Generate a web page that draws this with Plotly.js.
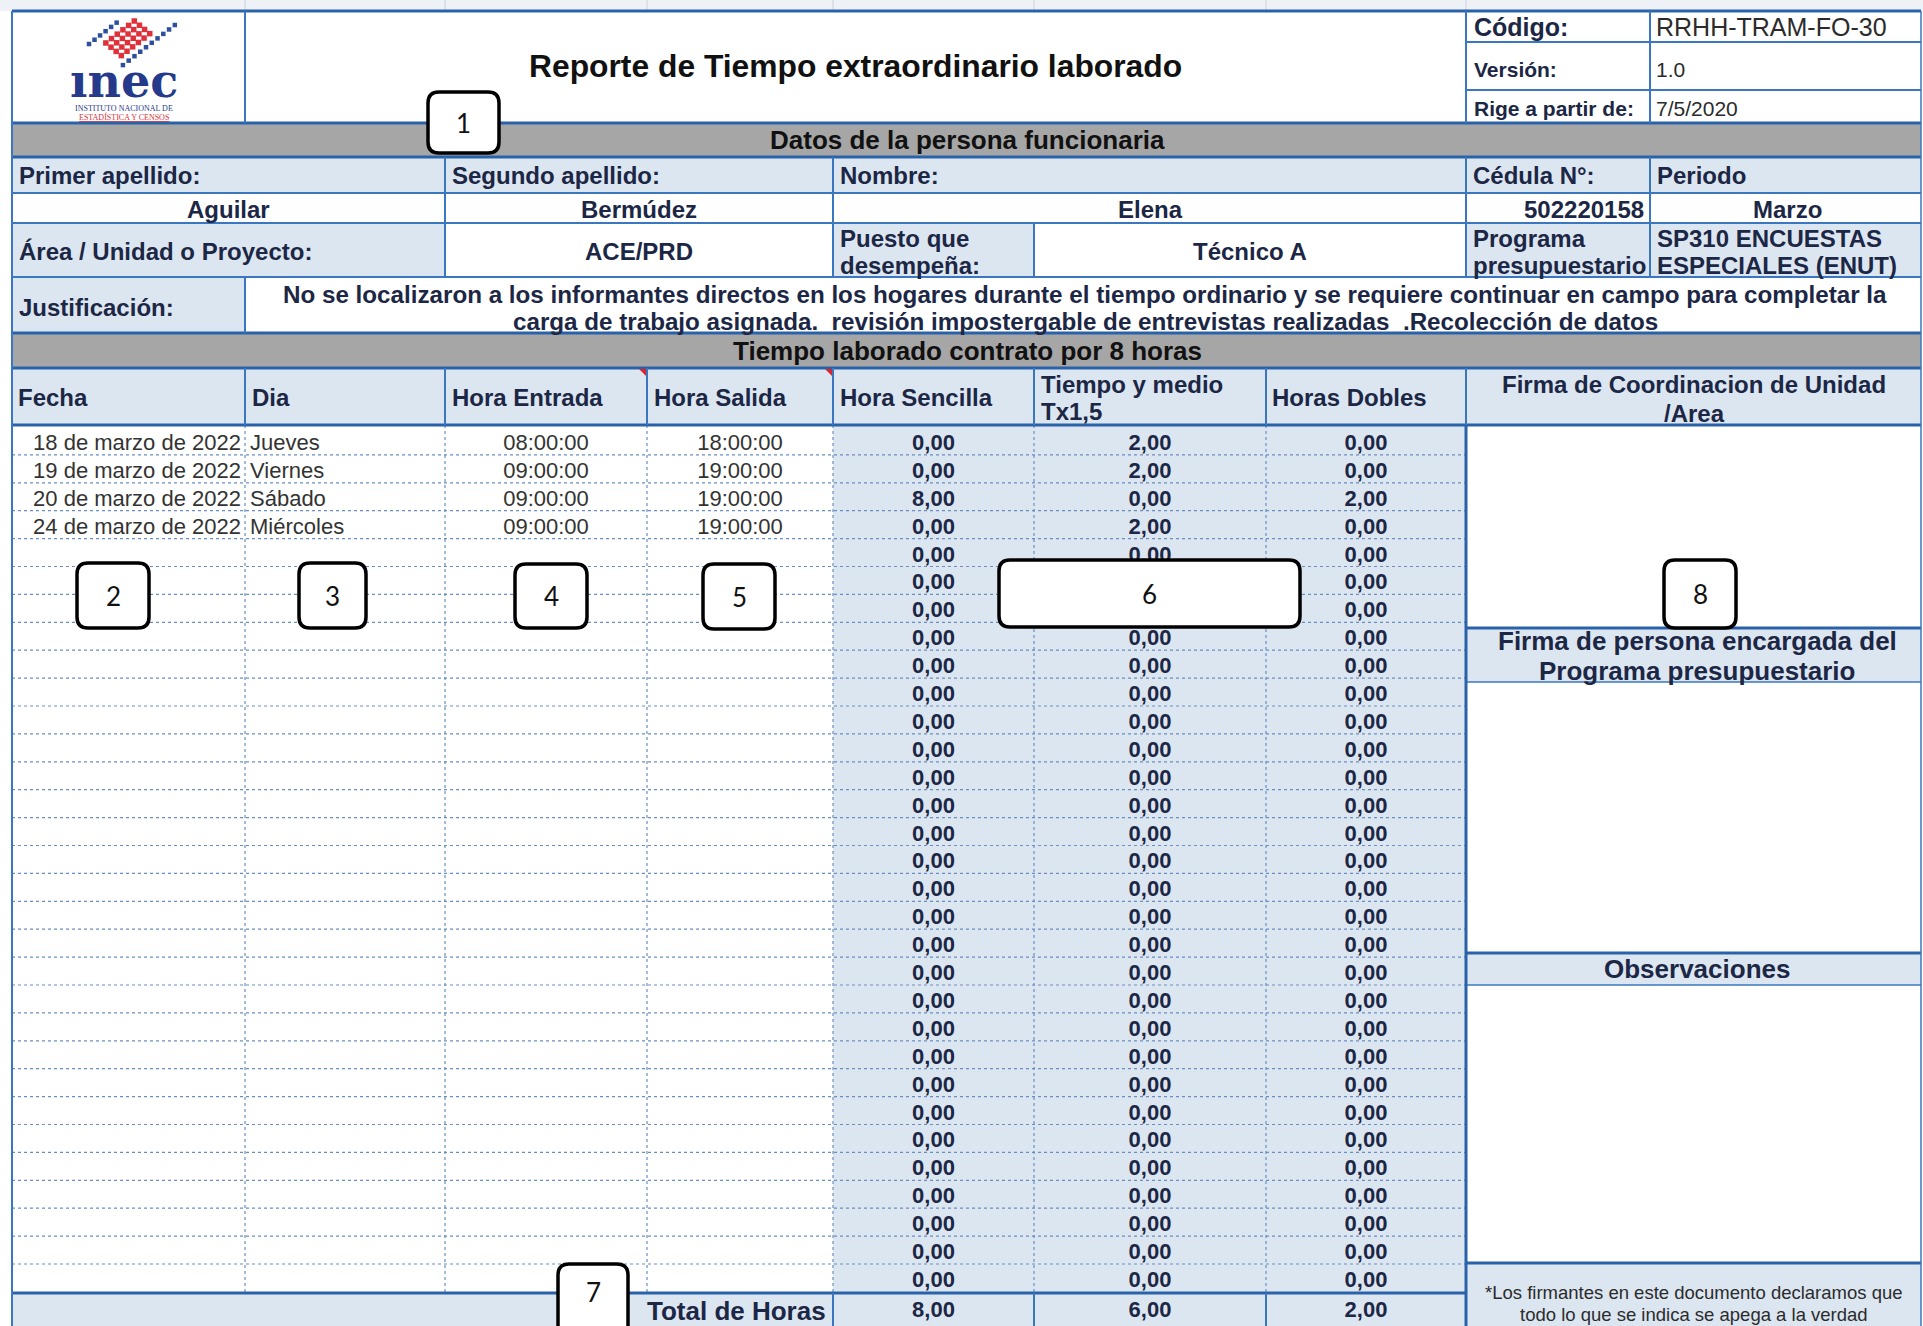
<!DOCTYPE html>
<html><head><meta charset="utf-8">
<script src="https://cdn.plot.ly/plotly-3.0.1.min.js"></script>
<style>html,body{margin:0;padding:0;background:#fff;overflow:hidden}#chart{width:1923px;height:1326px}</style>
</head><body><div id="chart"></div>
<script>
// ---------- DATA ----------
const fechas = ["18 de marzo de 2022","19 de marzo de 2022","20 de marzo de 2022","24 de marzo de 2022"];
const dias = ["Jueves","Viernes","Sábado","Miércoles"];
const horaEntrada = ["08:00:00","09:00:00","09:00:00","09:00:00"];
const horaSalida = ["18:00:00","19:00:00","19:00:00","19:00:00"];
const horaSencilla = [0,0,8,0,0,0,0,0,0,0,0,0,0,0,0,0,0,0,0,0,0,0,0,0,0,0,0,0,0,0,0];
const tiempoYMedio = [2,2,0,2,0,0,0,0,0,0,0,0,0,0,0,0,0,0,0,0,0,0,0,0,0,0,0,0,0,0,0];
const horasDobles  = [0,0,2,0,0,0,0,0,0,0,0,0,0,0,0,0,0,0,0,0,0,0,0,0,0,0,0,0,0,0,0];
const columnHeaders = ["Fecha","Dia","Hora Entrada","Hora Salida","Hora Sencilla",["Tiempo y medio","Tx1,5"],"Horas Dobles"];
const calloutLabels = ["1","2","3","4","5","6","7","8"];

// ---------- LAYOUT CONSTANTS ----------
const W = 1923, H = 1326;
const FONT = "Liberation Sans, Arial, Helvetica, sans-serif";
const NAVY = "#1c2745", INK = "#2b2b2b";
const LB = "#dce6f1", GRAY = "#a6a6a6", BLUE = "#3b76c0", DBLUE = "#2a62aa", DOT = "#6a8fbf";
const C = [12,245,445,647,833,1034,1266,1466];
const C8 = 1650, R = 1921;
const ROW_TOP = 427, ROW_H = 27.9, NROWS = horaSencilla.length;
const TEXT_DROP = 3.5;               // cell text sits slightly low, as in the sheet
const TEXT_TOP = ROW_TOP + TEXT_DROP;
const LINE_OFF = TEXT_DROP / ROW_H;
const TOTAL_Y = 1311;

const shapes = [];
function rect(x0,y0,x1,y1,fill){shapes.push({type:'rect',xref:'x',yref:'y',x0,y0,x1,y1,fillcolor:fill,line:{width:0},layer:'below'});}
function hl(x0,x1,y,w,col,dash,yref){shapes.push({type:'line',xref:'x',yref:yref||'y',x0,x1,y0:y,y1:y,line:{color:col||BLUE,width:w||2,dash:dash||'solid'},layer:'below'});}
function vl(x,y0,y1,w,col,dash){shapes.push({type:'line',xref:'x',yref:'y',x0:x,x1:x,y0,y1,line:{color:col||BLUE,width:w||2,dash:dash||'solid'},layer:'below'});}

// fills
rect(0,0,W,11,"#eef1f5");
rect(12,123,R,157,GRAY); rect(12,333,R,368,GRAY);
rect(12,157,R,193,LB);
rect(12,223,445,277,LB); rect(833,223,1034,277,LB); rect(1466,223,R,277,LB);
rect(12,277,245,333,LB);
rect(12,368,R,425,LB);
rect(C[4],425,C[7],1293,LB);
rect(1466,628,R,682,LB); rect(1466,953,R,985,LB); rect(1466,1263,R,H,LB);
rect(12,1293,1466,H,LB);

// faint strip column lines
C.slice(1).forEach(x=>vl(x,0,11,1,"#c9d2dd"));

// dotted grid in data rows
for(let i=0;i<NROWS-1;i++) hl(C[0],C[7],i+0.5-LINE_OFF,1.2,DOT,'dot','y2');
for(let k=1;k<=6;k++) vl(C[k],425,1293,1.2,DOT,'dot');

// solid borders
[[12,R,11,3],[12,R,123,3],[12,R,157,3],[12,R,193,2],[12,R,223,2],[12,R,277,2],[12,R,333,3],[12,R,368,3],[12,R,425,3],
 [1466,R,42,2],[1466,R,90,2],[1466,R,628,3],[1466,R,682,1.5],[1466,R,953,3],[1466,R,985,1.5],[1466,R,1263,3],[12,1466,1293,3]]
 .forEach(a=>hl(a[0],a[1],a[2],a[3],a[3]>=3?DBLUE:BLUE));
vl(12,11,H,2); vl(R,11,H,1.5);
[245,1466,C8].forEach(x=>vl(x,11,123,2));
[445,833,1466,C8].forEach(x=>vl(x,157,223,2));
[445,833,1034,1466,C8].forEach(x=>vl(x,223,277,2));
vl(245,277,333,2);
C.slice(1).forEach(x=>vl(x,368,425,2));
vl(1466,425,H,3,DBLUE);
[833,1034,1266].forEach(x=>vl(x,1293,H,2));

// red comment markers
[647,833].forEach(x=>shapes.push({type:'path',xref:'x',yref:'y',path:`M ${x-8} 369 L ${x-1} 369 L ${x-1} 376 Z`,fillcolor:'#d9262e',line:{width:0},layer:'above'}));

// logo pattern
const O=[89,44], u=[0.79,-0.61], v=[0.61,0.79];
function sq(al,pe,s,col){const cx=O[0]+al*u[0]+pe*v[0], cy=O[1]+al*u[1]+pe*v[1];
 shapes.push({type:'rect',xref:'x',yref:'y',x0:cx-s/2,x1:cx+s/2,y0:cy-s/2,y1:cy+s/2,fillcolor:col,line:{width:0},layer:'above'});}
for(let t=0;t<6;t++) sq(t*7,0,4.5,'#2d4f9e');
for(let r=0;r<4;r++) for(let t=0;t<6;t++) sq(14+r*1.5+t*7.2,9.5+r*6.5,5.5,'#e0313b');
for(let t=0;t<10;t++) sq(14+t*7.3,37.5,4.5,'#2d4f9e');

// callout boxes
function rr(x0,y0,x1,y1,r){return `M ${x0+r} ${y0} L ${x1-r} ${y0} Q ${x1} ${y0} ${x1} ${y0+r} L ${x1} ${y1-r} Q ${x1} ${y1} ${x1-r} ${y1} L ${x0+r} ${y1} Q ${x0} ${y1} ${x0} ${y1-r} L ${x0} ${y0+r} Q ${x0} ${y0} ${x0+r} ${y0} Z`;}
const boxes = [[428,92,499,153],[77,563,149,628],[299,563,366,628],[515,564,587,628],[703,564,775,629],[999,560,1300,627],[558,1264,628,1345],[1664,560,1736,628]];
boxes.forEach(b=>shapes.push({type:'path',xref:'x',yref:'y',path:rr(b[0],b[1],b[2],b[3],11),fillcolor:'#fff',line:{color:'#000',width:3.5},layer:'above'}));

// ---------- ANNOTATIONS (static form text) ----------
const anns = [];
function ann(x,y,text,size,o){o=o||{};const xa=o.xa||'center';
 anns.push({x,y,xref:'x',yref:'y',text,showarrow:false,xanchor:xa,yanchor:'middle',align:xa==='left'?'left':(xa==='right'?'right':'center'),
  font:{family:o.family||FONT,size,color:o.color||NAVY,weight:o.bold===false?400:700}});}

// logo text
ann(124,81,"ınec",46,{family:"DejaVu Serif, serif",color:'#263a8c'});
ann(124,108,"INSTITUTO NACIONAL DE",8,{family:"Liberation Serif, serif",color:'#263a8c',bold:false});
ann(124,117,"<u>ESTADÍSTICA Y CENSOS</u>",8,{family:"Liberation Serif, serif",color:'#d6333b',bold:false});

ann(855,66,"Reporte de Tiempo extraordinario laborado",31.8,{color:'#111'});
ann(1472,27,"Código:",25,{xa:'left'}); ann(1654,27,"RRHH-TRAM-FO-30",25,{xa:'left',bold:false,color:INK});
ann(1472,69,"Versión:",21,{xa:'left'}); ann(1654,69,"1.0",21,{xa:'left',bold:false,color:INK});
ann(1472,108,"Rige a partir de:",21,{xa:'left'}); ann(1654,108,"7/5/2020",21,{xa:'left',bold:false,color:INK});

ann(967,140,"Datos de la persona funcionaria",26,{color:'#111'});
ann(17,175,"Primer apellido:",24,{xa:'left'}); ann(450,175,"Segundo apellido:",24,{xa:'left'});
ann(838,175,"Nombre:",24,{xa:'left'}); ann(1471,175,"Cédula N°:",24,{xa:'left'}); ann(1655,175,"Periodo",24,{xa:'left'});
ann(228,209,"Aguilar",24); ann(639,209,"Bermúdez",24); ann(1150,209,"Elena",24);
ann(1646,209,"502220158",24,{xa:'right'}); ann(1787,209,"Marzo",24);
ann(17,251,"Área / Unidad o Proyecto:",24,{xa:'left'}); ann(639,251,"ACE/PRD",24);
ann(838,238,"Puesto que",24,{xa:'left'}); ann(838,265,"desempeña:",24,{xa:'left'});
ann(1250,251,"Técnico A",24);
ann(1471,238,"Programa",24,{xa:'left'}); ann(1471,265,"presupuestario",24,{xa:'left'});
ann(1655,238,"SP310 ENCUESTAS",24,{xa:'left'}); ann(1655,265,"ESPECIALES (ENUT)",24,{xa:'left'});
ann(17,307,"Justificación:",24,{xa:'left'});
ann(1085,294,"No se localizaron a los informantes directos en los hogares durante el tiempo ordinario y se requiere continuar en campo para completar la",24.2);
ann(1085,321,"carga de trabajo asignada.  revisión impostergable de entrevistas realizadas  .Recolección de datos",24.2);
ann(967,351,"Tiempo laborado contrato por 8 horas",26,{color:'#111'});

// column headers
const hdrX=[16,250,450,652,838,1039,1270];
columnHeaders.forEach((h,i)=>{
 if(Array.isArray(h)){ann(hdrX[i],384,h[0],24,{xa:'left'}); ann(hdrX[i],411,h[1],24,{xa:'left'});}
 else ann(hdrX[i],397,h,24,{xa:'left'});
});
ann(1694,384,"Firma de Coordinacion de Unidad",24); ann(1694,413,"/Area",24);
ann(1697,641,"Firma de persona encargada del",26); ann(1697,671,"Programa presupuestario",26);
ann(1697,969,"Observaciones",26);
ann(1694,1292,"*Los firmantes en este documento declaramos que",18.5,{bold:false,color:INK});
ann(1694,1314,"todo lo que se indica se apega a la verdad",18.5,{bold:false,color:INK});
ann(828,1311,"Total de Horas",26,{xa:'right'});

// callout numbers
boxes.forEach((b,i)=>{const yc = i===6 ? 1292 : (b[1]+b[3])/2; ann((b[0]+b[2])/2, yc, calloutLabels[i], 26, {family:"Lato, Noto Sans, sans-serif",bold:false,color:'#111'});});

// ---------- TRACES (table cells) ----------
const fmt = v => v.toFixed(2).replace('.',',');
const sum = a => a.reduce((s,x)=>s+x,0);
const idx = a => a.map((_,i)=>i);
const base = {type:'scatter',mode:'text',xaxis:'x',yaxis:'y2',hoverinfo:'skip',cliponaxis:false,showlegend:false};
const regFont = {family:FONT,size:22,color:'#333'};
const boldFont = {family:FONT,size:22,color:NAVY,weight:700};
const traces = [
 Object.assign({},base,{x:fechas.map(()=>C[1]-4),y:idx(fechas),text:fechas,textposition:'middle left',textfont:regFont}),
 Object.assign({},base,{x:dias.map(()=>C[1]+5),y:idx(dias),text:dias,textposition:'middle right',textfont:regFont}),
 Object.assign({},base,{x:horaEntrada.map(()=>(C[2]+C[3])/2),y:idx(horaEntrada),text:horaEntrada,textposition:'middle center',textfont:regFont}),
 Object.assign({},base,{x:horaSalida.map(()=>(C[3]+C[4])/2),y:idx(horaSalida),text:horaSalida,textposition:'middle center',textfont:regFont}),
 Object.assign({},base,{x:horaSencilla.map(()=>(C[4]+C[5])/2),y:idx(horaSencilla),text:horaSencilla.map(fmt),textposition:'middle center',textfont:boldFont}),
 Object.assign({},base,{x:tiempoYMedio.map(()=>(C[5]+C[6])/2),y:idx(tiempoYMedio),text:tiempoYMedio.map(fmt),textposition:'middle center',textfont:boldFont}),
 Object.assign({},base,{x:horasDobles.map(()=>(C[6]+C[7])/2),y:idx(horasDobles),text:horasDobles.map(fmt),textposition:'middle center',textfont:boldFont}),
 Object.assign({},base,{yaxis:'y',x:[(C[4]+C[5])/2,(C[5]+C[6])/2,(C[6]+C[7])/2],y:[TOTAL_Y,TOTAL_Y,TOTAL_Y],
   text:[sum(horaSencilla),sum(tiempoYMedio),sum(horasDobles)].map(fmt),textposition:'middle center',textfont:boldFont})
];

const layout = {
 width:W,height:H,margin:{l:0,r:0,t:0,b:0,pad:0},paper_bgcolor:'#fff',plot_bgcolor:'#fff',showlegend:false,
 xaxis:{range:[0,W],visible:false,fixedrange:true},
 yaxis:{range:[H,0],visible:false,fixedrange:true},
 yaxis2:{overlaying:'y',range:[(H-TEXT_TOP)/ROW_H-0.5,-TEXT_TOP/ROW_H-0.5],visible:false,fixedrange:true},
 shapes, annotations:anns
};
Plotly.newPlot('chart',traces,layout,{staticPlot:true,displayModeBar:false});
</script></body></html>
